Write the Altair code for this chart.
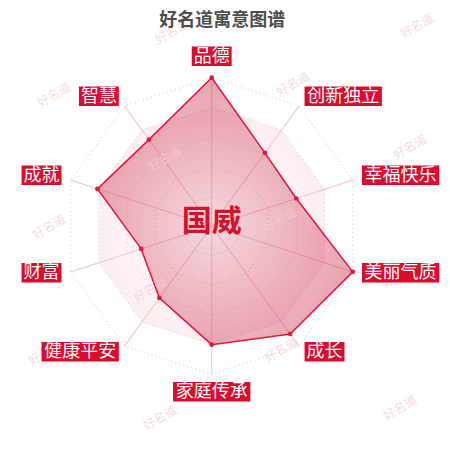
import altair as alt
import pandas as pd

# ---- data ----
categories = ["品德", "创新独立", "幸福快乐", "美丽气质", "成长",
              "家庭传承", "健康平安", "财富", "成就", "智慧"]
values = [100, 61, 60, 100, 90, 80, 60, 50, 81, 72]
max_value = 100
ring_levels = [20, 40, 60, 80, 100]
title_text = "好名道寓意图谱"
center_text = "国威"
watermark_text = "好名道"

# ---- layout (pixels; 1 data unit == 1 px) ----
R = 148.3          # outer radius
LABEL_R = 158      # label anchor radius
W, H = 434, 434
CX, CY = 203.7, 218.0   # centre inside plot area
x_scale = alt.Scale(domain=[-CX, W - CX], nice=False, zero=False)
y_scale = alt.Scale(domain=[-(H - CY), CY], nice=False, zero=False)

# watermark centres (page px)
wm_px = [172, 417, 54, 293, 410, 165, 49, 280, 398, 150, 45, 281, 160, 400]
wm_py = [32, 26, 95, 84, 147, 159, 227, 220, 276, 290, 353, 350, 418, 408]

N = len(categories)
series = pd.DataFrame({"category": categories, "value": values, "idx": list(range(N))})
rings = pd.DataFrame([{"level": lv, "idx": i} for lv in ring_levels for i in range(N)])
spokes = pd.DataFrame({"idx": list(range(N))})
wm = pd.DataFrame({"px": wm_px, "py": wm_py, "t": [watermark_text] * len(wm_px)})

X = alt.X("x:Q", scale=x_scale, axis=None)
Y = alt.Y("y:Q", scale=y_scale, axis=None)
theta = f"datum.idx * 2 * PI / {N}"

def polar(chart, rfield):
    return chart.transform_calculate(
        th=theta,
        rr=f"{rfield} / {max_value} * {R}",
    ).transform_calculate(
        x="datum.rr * sin(datum.th)",
        y="datum.rr * cos(datum.th)",
    )

# split area background (inside 80% ring)
split_grad = alt.RadialGradient(
    gradient="radial", x1=0.5, y1=0.5, x2=0.5, y2=0.5, r1=0, r2=0.5,
    stops=[alt.GradientStop(color="rgba(235,140,158,0.02)", offset=0),
           alt.GradientStop(color="rgba(232,120,140,0.13)", offset=1)])
split_area = polar(alt.Chart(rings), "datum.level").transform_filter(
    "datum.level == 80"
).mark_line(interpolate="linear-closed", fill=split_grad, strokeWidth=0, strokeOpacity=0).encode(
    x=X, y=Y, order=alt.Order("idx:Q"))

ring_lines = polar(alt.Chart(rings), "datum.level").mark_line(
    interpolate="linear-closed", color="#f0c3cd", strokeWidth=1, strokeDash=[1.2, 3]
).encode(x=X, y=Y, detail="level:N", order=alt.Order("idx:Q"))

spoke_lines = alt.Chart(spokes).transform_calculate(
    th=theta
).transform_calculate(
    x="0", y="0", x2=f"{R} * sin(datum.th)", y2=f"{R} * cos(datum.th)"
).mark_rule(color="#f2cad3", strokeWidth=1.2).encode(
    x=X, y=Y, x2="x2:Q", y2="y2:Q")

poly_grad = alt.RadialGradient(
    gradient="radial", x1=0.45, y1=0.56, x2=0.45, y2=0.56, r1=0, r2=0.58,
    stops=[alt.GradientStop(color="rgba(200,30,60,0.16)", offset=0),
           alt.GradientStop(color="rgba(200,30,60,0.42)", offset=1)])
polygon = polar(alt.Chart(series), "datum.value").mark_line(
    interpolate="linear-closed", fill=poly_grad, stroke="#e3173e", strokeWidth=1.5
).encode(x=X, y=Y, order=alt.Order("idx:Q"))

points = polar(alt.Chart(series), "datum.value").mark_point(
    filled=True, size=22, color="#e3173e", opacity=1
).encode(x=X, y=Y)

watermarks = alt.Chart(wm).transform_calculate(
    x=f"datum.px - {CX + 8}", y=f"{CY + 8} - datum.py"
).mark_text(
    font="Noto Sans CJK SC", fontSize=12, fontWeight=300, angle=330, color="#f4ccd5",
    align="center", baseline="middle"
).encode(x=X, y=Y, text="t:N")

label_base = alt.Chart(series).transform_calculate(
    th=theta
).transform_calculate(
    s="sin(datum.th)", c="cos(datum.th)"
).transform_calculate(
    ax=f"{LABEL_R} * datum.s", ay=f"{LABEL_R} * datum.c + 2",
    w="length(datum.category) * 18.7 + 2.5", h="19.5"
).transform_calculate(
    bx1="datum.s > 0.01 ? datum.ax : (datum.s < -0.01 ? datum.ax - datum.w : datum.ax - datum.w / 2)",
    byc="datum.c > 0.99 ? datum.ay + datum.h / 2 : (datum.c < -0.99 ? datum.ay - datum.h / 2 : datum.ay)",
).transform_calculate(
    x="datum.bx1", x2="datum.bx1 + datum.w",
    y="datum.byc - datum.h / 2", y2="datum.byc + datum.h / 2",
    tx="datum.bx1 + datum.w / 2", ty="datum.byc",
)
label_boxes = label_base.mark_rect(color="#dc0a2d").encode(x=X, y=Y, x2="x2:Q", y2="y2:Q")
label_texts = label_base.mark_text(
    font="Noto Sans CJK SC", fontSize=18, color="white", align="center", baseline="middle", dy=0.5
).encode(x=alt.X("tx:Q", scale=x_scale, axis=None), y=alt.Y("ty:Q", scale=y_scale, axis=None),
         text="category:N")

center_label = alt.Chart(pd.DataFrame({"t": [center_text]})).mark_text(
    font="Noto Sans CJK SC", fontSize=30, fontWeight="bold", color="#d7102c",
    align="center", baseline="middle"
).encode(x=alt.datum(0, scale=x_scale), y=alt.datum(4, scale=y_scale), text="t:N")

title = alt.Chart(pd.DataFrame({"t": [title_text]})).mark_text(
    font="Noto Sans CJK SC", fontSize=18, fontWeight="bold", color="#4d4d4d",
    align="center", baseline="top"
).encode(x=alt.datum(10.6, scale=x_scale), y=alt.datum(214.5, scale=y_scale), text="t:N")

chart = alt.layer(
    split_area, ring_lines, spoke_lines, polygon, points, watermarks,
    label_boxes, label_texts, center_label, title
).properties(
    width=W, height=H, autosize="none", padding=0, background="white"
).configure_view(strokeWidth=0)

chart.save("out.html", embed_options={"renderer": "svg", "actions": False})
